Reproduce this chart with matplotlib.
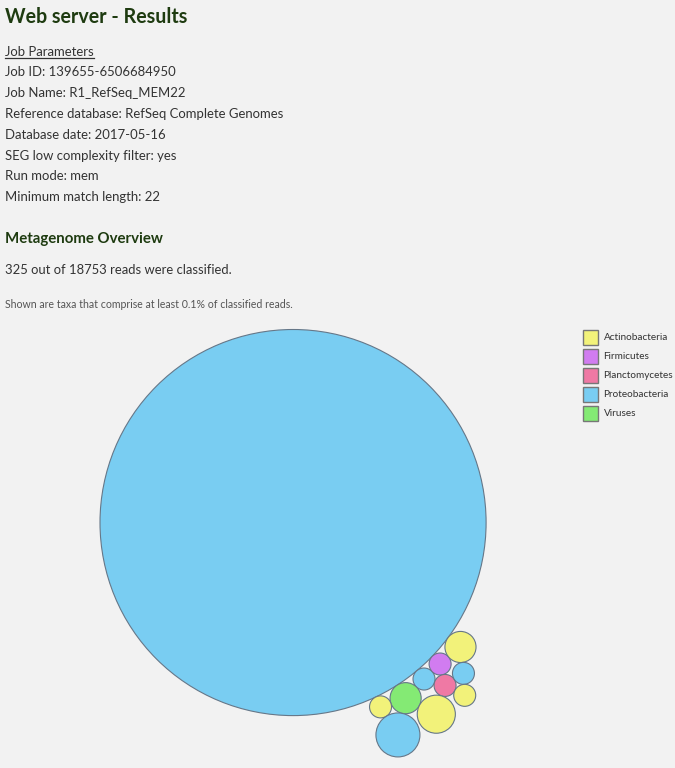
import math
import matplotlib
matplotlib.use("Agg")
import matplotlib.pyplot as plt
from matplotlib.patches import Circle, Rectangle

# ---------------- data ----------------
phyla = ["Actinobacteria", "Firmicutes", "Planctomycetes", "Proteobacteria", "Viruses"]
phylum_colors = ["#F2F27A", "#D17CF0", "#EF79A4", "#79CDF2", "#84EA74"]

# taxa in data order (reads per taxon, with their phylum)
taxon_phylum = ["Proteobacteria", "Proteobacteria", "Firmicutes", "Viruses", "Planctomycetes",
                "Actinobacteria", "Actinobacteria", "Actinobacteria", "Proteobacteria",
                "Proteobacteria", "Actinobacteria"]
taxon_reads = [308, 1, 1, 2, 1, 2, 3, 1, 1, 4, 1]

title = "Web server - Results"
params_header = "Job Parameters"
info_lines = ["Job ID: 139655-6506684950", "Job Name: R1_RefSeq_MEM22",
              "Reference database: RefSeq Complete Genomes", "Database date: 2017-05-16",
              "SEG low complexity filter: yes", "Run mode: mem", "Minimum match length: 22"]
overview_header = "Metagenome Overview"
classified_line = "325 out of 18753 reads were classified."
note_line = "Shown are taxa that comprise at least 0.1% of classified reads."

# ---------------- bubble layout (greedy packing) ----------------
PX_PER_SQRT_READ = 11.0
ANCHOR_ANGLE = math.radians(50.07)   # direction in which the small bubbles gather
ANCHOR_DIST = 178.4
ANCHOR_TILT = 1e-4                   # breaks the left/right tie for the second bubble
PACK_LEFT, PACK_TOP = 100.0, 329.5   # top-left corner of the pack's bounding box


def tangent_points(c1, c2, r):
    (x1, y1, r1), (x2, y2, r2) = c1, c2
    dx, dy = x2 - x1, y2 - y1
    d = math.hypot(dx, dy)
    a, b = r1 + r, r2 + r
    if d == 0 or d > a + b:
        return []
    x = (d * d + a * a - b * b) / (2 * d)
    h2 = a * a - x * x
    if h2 < 0:
        return []
    h = math.sqrt(h2)
    ux, uy = dx / d, dy / d
    px, py = x1 + ux * x, y1 + uy * x
    return [(px - uy * h, py + ux * h), (px + uy * h, py - ux * h)]


def pack(radii):
    pa = ANCHOR_ANGLE - ANCHOR_TILT
    P = (ANCHOR_DIST * math.cos(pa), ANCHOR_DIST * math.sin(pa))
    placed = [(0.0, 0.0, radii[0])]
    for r in radii[1:]:
        if len(placed) == 1:
            d = placed[0][2] + r
            placed.append((d * math.cos(ANCHOR_ANGLE), d * math.sin(ANCHOR_ANGLE), r))
            continue
        cands = []
        for i in range(len(placed)):
            for j in range(i + 1, len(placed)):
                for (cx, cy) in tangent_points(placed[i], placed[j], r):
                    cands.append(((cx - P[0]) ** 2 + (cy - P[1]) ** 2, cx, cy))
        cands.sort()
        for _, cx, cy in cands:
            if all((cx - x) ** 2 + (cy - y) ** 2 >= (rr + r - 1e-6) ** 2 for x, y, rr in placed):
                placed.append((cx, cy, r))
                break
    return placed


radii = [PX_PER_SQRT_READ * math.sqrt(v) for v in taxon_reads]
circles = pack(radii)
minx = min(x - r for x, y, r in circles)
miny = min(y - r for x, y, r in circles)
circles = [(x - minx + PACK_LEFT, y - miny + PACK_TOP, r) for x, y, r in circles]

# ---------------- figure ----------------
W, H = 675, 768
BG = "#F2F2F2"
fig = plt.figure(figsize=(W / 100, H / 100), dpi=100, facecolor=BG)
ax = fig.add_axes([0, 0, 1, 1])
ax.set_xlim(0, W)
ax.set_ylim(H, 0)
ax.axis("off")

FONT = "Lato"
TEXT = "#333333"
GREEN = "#1E3B10"
cmap = dict(zip(phyla, phylum_colors))

for (x, y, r), ph in zip(circles, taxon_phylum):
    ax.add_patch(Circle((x, y), r, fc=cmap[ph], ec="#667788", lw=0.8))

ax.text(5, 23, title, fontsize=14.1, fontweight="bold", color=GREEN, family=FONT)
ax.text(5, 55.5, params_header, fontsize=9.45, color=TEXT, family=FONT)
ax.plot([5, 94], [58, 58], color=TEXT, lw=0.9)
for i, s in enumerate(info_lines):
    ax.text(5, 76.3 + 20.8 * i, s, fontsize=9.45, color=TEXT, family=FONT)
ax.text(5, 243.5, overview_header, fontsize=10.8, fontweight="bold", color=GREEN, family=FONT)
ax.text(5, 273.5, classified_line, fontsize=9.4, color=TEXT, family=FONT)
ax.text(5, 308, note_line, fontsize=7.6, color="#555555", family=FONT)

for i, (p, c) in enumerate(zip(phyla, phylum_colors)):
    ax.add_patch(Rectangle((583, 330 + 19 * i), 15, 15, fc=c, ec="#777777", lw=1))
    ax.text(603.5, 337.5 + 19 * i, p, fontsize=7.2, va="center", color=TEXT, family=FONT)

fig.savefig("out.png", dpi=100, facecolor=BG)
